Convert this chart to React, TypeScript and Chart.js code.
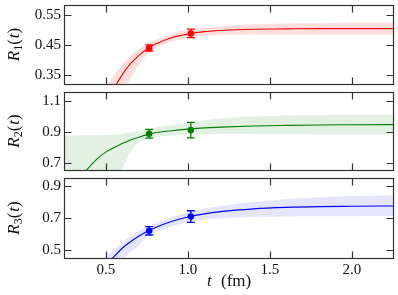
import React, { useEffect, useRef } from "react";
import { Chart, registerables } from "chart.js";
Chart.register(...registerables);

const X_MIN = 0.245;
const X_MAX = 2.25;
const X_TICKS = [0.5, 1.0, 1.5, 2.0];

// Panel 1: R1(t)
const R1_CURVE_T = [0.5, 0.55, 0.6, 0.65, 0.7, 0.75, 0.8, 0.9, 1.0, 1.1, 1.2, 1.4, 1.6, 1.8, 2.0, 2.25];
const R1_CURVE = [0.243, 0.305, 0.352, 0.388, 0.415, 0.436, 0.452, 0.474, 0.486, 0.494, 0.498, 0.502, 0.503, 0.504, 0.504, 0.504];
const R1_BAND_T = [0.45, 0.5, 0.55, 0.6, 0.65, 0.7, 0.75, 0.8, 0.9, 1.0, 1.1, 1.2, 1.4, 1.6, 1.8, 2.0, 2.25];
const R1_BAND_HI = [0.25, 0.305, 0.35, 0.385, 0.413, 0.435, 0.452, 0.466, 0.486, 0.499, 0.507, 0.512, 0.518, 0.521, 0.522, 0.523, 0.524];
const R1_BAND_LO = [0.1, 0.18, 0.245, 0.298, 0.34, 0.385, 0.418, 0.437, 0.461, 0.473, 0.48, 0.483, 0.485, 0.484, 0.484, 0.484, 0.484];
const R1_PT_T = [0.764, 1.018];
const R1_PT = [0.44, 0.488];
const R1_PT_ERR = [0.01, 0.014];
const R1_Y_TICKS = [0.35, 0.45, 0.55];
const R1_Y_RANGE = [0.321, 0.582];

// Panel 2: R2(t)
const R2_CURVE_T = [0.35, 0.4, 0.45, 0.5, 0.55, 0.6, 0.65, 0.7, 0.76, 0.8, 0.9, 1.0, 1.1, 1.2, 1.4, 1.6, 1.8, 2.0, 2.25];
const R2_CURVE = [0.62, 0.675, 0.73, 0.77, 0.8, 0.826, 0.848, 0.866, 0.886, 0.895, 0.908, 0.918, 0.926, 0.931, 0.938, 0.942, 0.945, 0.946, 0.947];
const R2_BAND_T = [0.245, 0.3, 0.4, 0.5, 0.55, 0.6, 0.65, 0.7, 0.76, 0.85, 1.0, 1.1, 1.2, 1.4, 1.6, 1.8, 2.0, 2.25];
const R2_BAND_HI = [0.877, 0.877, 0.878, 0.881, 0.884, 0.889, 0.896, 0.905, 0.918, 0.936, 0.958, 0.975, 0.988, 1.0, 1.006, 1.009, 1.01, 1.01];
const R2_BAND_LO = [0.1, 0.2, 0.35, 0.5, 0.58, 0.665, 0.77, 0.83, 0.857, 0.872, 0.884, 0.887, 0.888, 0.887, 0.885, 0.884, 0.884, 0.883];
const R2_PT_T = [0.764, 1.018];
const R2_PT = [0.888, 0.912];
const R2_PT_ERR = [0.028, 0.05];
const R2_Y_TICKS = [0.7, 0.9, 1.1];
const R2_Y_RANGE = [0.655, 1.157];

// Panel 3: R3(t)
const R3_CURVE_T = [0.45, 0.5, 0.55, 0.6, 0.65, 0.7, 0.76, 0.8, 0.9, 1.0, 1.1, 1.2, 1.4, 1.6, 1.8, 2.0, 2.25];
const R3_CURVE = [0.35, 0.411, 0.462, 0.514, 0.554, 0.588, 0.622, 0.641, 0.679, 0.707, 0.727, 0.741, 0.758, 0.767, 0.772, 0.774, 0.776];
const R3_BAND_T = [0.4, 0.45, 0.5, 0.55, 0.6, 0.65, 0.7, 0.76, 0.8, 0.9, 1.0, 1.1, 1.2, 1.4, 1.6, 1.8, 2.0, 2.25];
const R3_BAND_HI = [0.36, 0.41, 0.46, 0.505, 0.55, 0.59, 0.62, 0.65, 0.668, 0.705, 0.737, 0.76, 0.776, 0.8, 0.818, 0.83, 0.837, 0.84];
const R3_BAND_LO = [0.2, 0.28, 0.35, 0.4, 0.445, 0.49, 0.53, 0.59, 0.61, 0.65, 0.675, 0.69, 0.7, 0.707, 0.71, 0.712, 0.712, 0.713];
const R3_PT_T = [0.764, 1.018];
const R3_PT = [0.622, 0.71];
const R3_PT_ERR = [0.026, 0.036];
const R3_Y_TICKS = [0.5, 0.7, 0.9];
const R3_Y_RANGE = [0.4535, 0.949];

const FONT = "'Liberation Serif', 'DejaVu Serif', serif";
const TEXT = "#111";
const FRAME = "#333";

const zip = (t: number[], v: number[]) => t.map((x, i) => ({ x, y: v[i] }));

const decorPlugin = {
  id: "decor",
  afterDatasetsDraw(chart: any, _args: any, opts: any) {
    const { ctx } = chart;
    const xs = chart.scales.x;
    const ys = chart.scales.y;
    ctx.save();
    ctx.strokeStyle = opts.color;
    ctx.lineWidth = 1.3;
    opts.ptT.forEach((t: number, i: number) => {
      const px = xs.getPixelForValue(t);
      const top = ys.getPixelForValue(opts.pt[i] + opts.err[i]);
      const bot = ys.getPixelForValue(opts.pt[i] - opts.err[i]);
      ctx.beginPath();
      ctx.moveTo(px, top);
      ctx.lineTo(px, bot);
      ctx.moveTo(px - 4, top);
      ctx.lineTo(px + 4, top);
      ctx.moveTo(px - 4, bot);
      ctx.lineTo(px + 4, bot);
      ctx.stroke();
    });
    ctx.restore();
  },
  afterDraw(chart: any, _args: any, opts: any) {
    const { ctx, chartArea: a } = chart;
    const xs = chart.scales.x;
    const ys = chart.scales.y;
    ctx.save();
    ctx.strokeStyle = FRAME;
    ctx.lineWidth = 1.2;
    const L = Math.round(a.left) + 0.5;
    const R = Math.round(a.right) + 0.5;
    const T = Math.round(a.top) + 0.5;
    const B = Math.round(a.bottom) + 0.5;
    ctx.strokeRect(L, T, R - L, B - T);
    const tl = 7;
    ctx.beginPath();
    X_TICKS.forEach((v) => {
      const px = Math.round(xs.getPixelForValue(v)) + 0.5;
      ctx.moveTo(px, T);
      ctx.lineTo(px, T + tl);
      ctx.moveTo(px, B);
      ctx.lineTo(px, B - tl);
    });
    opts.yTicks.forEach((v: number) => {
      const py = Math.round(ys.getPixelForValue(v)) + 0.5;
      ctx.moveTo(L, py);
      ctx.lineTo(L + tl, py);
      ctx.moveTo(R, py);
      ctx.lineTo(R - tl, py);
    });
    ctx.stroke();

    // y title: R_n(t)
    const cy = (a.top + a.bottom) / 2;
    ctx.translate(19, cy);
    ctx.rotate(-Math.PI / 2);
    ctx.fillStyle = TEXT;
    ctx.textBaseline = "alphabetic";
    ctx.textAlign = "left";
    const parts = [
      { s: "R", f: `italic 17px ${FONT}`, dy: 0 },
      { s: opts.sub, f: `12px ${FONT}`, dy: 3 },
      { s: "(", f: `17px ${FONT}`, dy: 0 },
      { s: "t", f: `italic 17px ${FONT}`, dy: 0 },
      { s: ")", f: `17px ${FONT}`, dy: 0 },
    ];
    let w = 0;
    parts.forEach((p) => {
      ctx.font = p.f;
      w += ctx.measureText(p.s).width + (p.s === "(" ? 1 : 0);
    });
    let x = -w / 2;
    parts.forEach((p) => {
      ctx.font = p.f;
      ctx.fillText(p.s, x, p.dy);
      x += ctx.measureText(p.s).width + (p.s === "(" ? 1 : 0);
    });
    ctx.restore();

    if (opts.xTitle) {
      ctx.save();
      ctx.fillStyle = TEXT;
      ctx.textBaseline = "alphabetic";
      ctx.textAlign = "left";
      const base = a.bottom + 28;
      ctx.font = `italic 17px ${FONT}`;
      ctx.fillText("t", 207, base);
      ctx.font = `17px ${FONT}`;
      ctx.fillText("(fm)", 221, base);
      ctx.restore();
    }
  },
};

function makeChart(
  canvas: HTMLCanvasElement,
  p: {
    curveT: number[]; curve: number[]; bandT: number[]; hi: number[]; lo: number[];
    ptT: number[]; pt: number[]; err: number[]; yTicks: number[]; yRange: number[];
    line: string; band: string; sub: string; showX: boolean; digits: number;
    padTop: number; padBottom: number; xHeight: number;
  }
) {
  return new Chart(canvas, {
    type: "line",
    data: {
      datasets: [
        {
          data: zip(p.bandT, p.hi),
          borderColor: "transparent",
          borderWidth: 0,
          backgroundColor: p.band,
          pointRadius: 0,
          fill: "+1",
          cubicInterpolationMode: "monotone",
          order: 3,
        },
        {
          data: zip(p.bandT, p.lo),
          borderColor: "transparent",
          borderWidth: 0,
          pointRadius: 0,
          fill: false,
          cubicInterpolationMode: "monotone",
          order: 3,
        },
        {
          data: zip(p.curveT, p.curve),
          borderColor: p.line,
          borderWidth: 1.1,
          pointRadius: 0,
          fill: false,
          cubicInterpolationMode: "monotone",
          order: 2,
        },
        {
          data: zip(p.ptT, p.pt),
          showLine: false,
          borderColor: p.line,
          backgroundColor: p.line,
          pointRadius: 3.3,
          pointBorderWidth: 0,
          fill: false,
          order: 1,
        },
      ] as any,
    },
    options: {
      responsive: false,
      animation: false,
      devicePixelRatio: 1,
      events: [],
      layout: { padding: { left: 0, right: 5, top: p.padTop, bottom: p.padBottom } },
      plugins: {
        legend: { display: false },
        tooltip: { enabled: false },
        decor: { color: p.line, ptT: p.ptT, pt: p.pt, err: p.err, yTicks: p.yTicks, sub: p.sub, xTitle: p.showX },
      } as any,
      scales: {
        x: {
          type: "linear",
          min: X_MIN,
          max: X_MAX,
          display: p.showX,
          grid: { display: false, drawTicks: false },
          border: { display: false },
          afterBuildTicks: (s: any) => {
            s.ticks = X_TICKS.map((v) => ({ value: v }));
          },
          afterFit: (s: any) => {
            s.height = p.xHeight;
            s.paddingLeft = 0;
            s.paddingRight = 0;
          },
          ticks: {
            font: { family: FONT, size: 15 },
            color: TEXT,
            padding: 3,
            maxRotation: 0,
            autoSkip: false,
            callback: (v: any) => Number(v).toFixed(1),
          },
        },
        y: {
          type: "linear",
          min: p.yRange[0],
          max: p.yRange[1],
          grid: { display: false, drawTicks: false },
          border: { display: false },
          afterBuildTicks: (s: any) => {
            s.ticks = p.yTicks.map((v) => ({ value: v }));
          },
          afterFit: (s: any) => {
            s.width = 64;
            s.paddingTop = 0;
            s.paddingBottom = 0;
          },
          ticks: {
            font: { family: FONT, size: 15 },
            color: TEXT,
            padding: 3,
            autoSkip: false,
            callback: (v: any) => Number(v).toFixed(p.digits),
          },
        },
      },
    } as any,
    plugins: [decorPlugin as any],
  });
}

export default function App() {
  const c1 = useRef<HTMLCanvasElement>(null);
  const c2 = useRef<HTMLCanvasElement>(null);
  const c3 = useRef<HTMLCanvasElement>(null);

  useEffect(() => {
    const charts = [
      makeChart(c1.current!, {
        curveT: R1_CURVE_T, curve: R1_CURVE, bandT: R1_BAND_T, hi: R1_BAND_HI, lo: R1_BAND_LO,
        ptT: R1_PT_T, pt: R1_PT, err: R1_PT_ERR, yTicks: R1_Y_TICKS, yRange: R1_Y_RANGE,
        line: "#ff0000", band: "rgba(255,0,0,0.13)", sub: "1", showX: false, digits: 2,
        padTop: 5, padBottom: 1.5, xHeight: 0,
      }),
      makeChart(c2.current!, {
        curveT: R2_CURVE_T, curve: R2_CURVE, bandT: R2_BAND_T, hi: R2_BAND_HI, lo: R2_BAND_LO,
        ptT: R2_PT_T, pt: R2_PT, err: R2_PT_ERR, yTicks: R2_Y_TICKS, yRange: R2_Y_RANGE,
        line: "#008000", band: "rgba(0,128,0,0.11)", sub: "2", showX: false, digits: 1,
        padTop: 2, padBottom: 2, xHeight: 0,
      }),
      makeChart(c3.current!, {
        curveT: R3_CURVE_T, curve: R3_CURVE, bandT: R3_BAND_T, hi: R3_BAND_HI, lo: R3_BAND_LO,
        ptT: R3_PT_T, pt: R3_PT, err: R3_PT_ERR, yTicks: R3_Y_TICKS, yRange: R3_Y_RANGE,
        line: "#0000ff", band: "rgba(0,0,255,0.1)", sub: "3", showX: true, digits: 1,
        padTop: 3, padBottom: 0, xHeight: 37,
      }),
    ];
    return () => charts.forEach((c) => c.destroy());
  }, []);

  const cs = (top: number): React.CSSProperties => ({ position: "absolute", left: 0, top, display: "block" });
  return (
    <div style={{ position: "absolute", left: 0, top: 0, width: 398, height: 295, background: "#fff" }}>
      <canvas ref={c1} width={398} height={88} style={{ ...cs(0), width: 398, height: 88 }} />
      <canvas ref={c2} width={398} height={86} style={{ ...cs(88), width: 398, height: 86 }} />
      <canvas ref={c3} width={398} height={121} style={{ ...cs(174), width: 398, height: 121 }} />
    </div>
  );
}
